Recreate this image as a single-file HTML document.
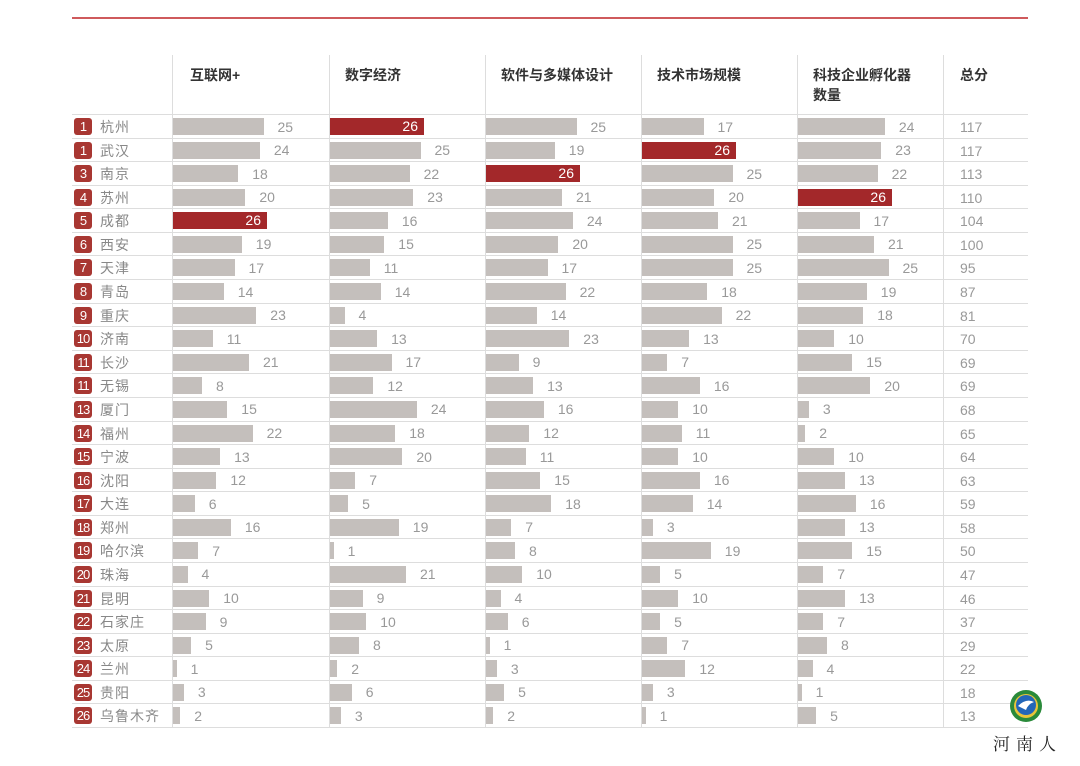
<!DOCTYPE html>
<html><head><meta charset="utf-8"><style>
body{margin:0;background:#fff;width:1080px;height:766px;overflow:hidden;position:relative;font-family:"Liberation Sans","Noto Sans CJK SC",sans-serif}
.top{position:absolute;left:72px;top:17px;width:956px;height:2px;background:#cf5a5c}
.v{position:absolute;top:55px;height:673px;width:1px;background:#ddd}
.h{position:absolute;top:65px;font-size:14px;font-weight:bold;color:#333;line-height:20px}
#t{position:absolute;left:72px;top:114px;width:956px;border-top:1px solid #ddd}
.r{position:relative;height:22.58px;border-bottom:1px solid #ddd}
.r b{position:absolute;left:2px;top:3px;width:18px;height:17px;background:#a83732;border-radius:3px;color:#fff;font-weight:normal;font-size:13px;line-height:17px;text-align:center;letter-spacing:-1px}
.r i{position:absolute;left:28px;top:2px;font-style:normal;color:#888;font-size:14px;line-height:20px;letter-spacing:1px}
.c{position:absolute;top:3px;display:flex;align-items:center;height:17px}
.c s{display:block;height:17px;background:#c4bfbc;text-decoration:none}
.c span{margin-left:14px;color:#999;font-size:14px}
.c s.x{background:#a3282a;color:#fff;font-size:14px;text-align:right;box-sizing:border-box;padding-right:6px;line-height:17px}
.tt{position:absolute;left:888px;top:2px;color:#999;font-size:14px;line-height:20px}
.c1{left:101px}.c2{left:258px}.c3{left:414px}.c4{left:570px}.c5{left:726px}
</style></head><body>
<div class="top"></div>
<div class="v" style="left:172px"></div><div class="v" style="left:329px"></div><div class="v" style="left:485px"></div><div class="v" style="left:641px"></div><div class="v" style="left:797px"></div><div class="v" style="left:943px"></div>
<div class="h" style="left:190px">互联网+</div>
<div class="h" style="left:345px">数字经济</div>
<div class="h" style="left:501px">软件与多媒体设计</div>
<div class="h" style="left:657px">技术市场规模</div>
<div class="h" style="left:813px">科技企业孵化器<br>数量</div>
<div class="h" style="left:960px">总分</div>
<div id="t">
<div class="r"><b>1</b><i>杭州</i><div class="c c1"><s style="width:90.5px"></s><span>25</span></div><div class="c c2"><s class="x" style="width:94px">26</s></div><div class="c c3"><s style="width:90.5px"></s><span>25</span></div><div class="c c4"><s style="width:61.5px"></s><span>17</span></div><div class="c c5"><s style="width:86.9px"></s><span>24</span></div><div class="tt">117</div></div>
<div class="r"><b>1</b><i>武汉</i><div class="c c1"><s style="width:86.9px"></s><span>24</span></div><div class="c c2"><s style="width:90.5px"></s><span>25</span></div><div class="c c3"><s style="width:68.8px"></s><span>19</span></div><div class="c c4"><s class="x" style="width:94px">26</s></div><div class="c c5"><s style="width:83.3px"></s><span>23</span></div><div class="tt">117</div></div>
<div class="r"><b>3</b><i>南京</i><div class="c c1"><s style="width:65.2px"></s><span>18</span></div><div class="c c2"><s style="width:79.6px"></s><span>22</span></div><div class="c c3"><s class="x" style="width:94px">26</s></div><div class="c c4"><s style="width:90.5px"></s><span>25</span></div><div class="c c5"><s style="width:79.6px"></s><span>22</span></div><div class="tt">113</div></div>
<div class="r"><b>4</b><i>苏州</i><div class="c c1"><s style="width:72.4px"></s><span>20</span></div><div class="c c2"><s style="width:83.3px"></s><span>23</span></div><div class="c c3"><s style="width:76px"></s><span>21</span></div><div class="c c4"><s style="width:72.4px"></s><span>20</span></div><div class="c c5"><s class="x" style="width:94px">26</s></div><div class="tt">110</div></div>
<div class="r"><b>5</b><i>成都</i><div class="c c1"><s class="x" style="width:94px">26</s></div><div class="c c2"><s style="width:57.9px"></s><span>16</span></div><div class="c c3"><s style="width:86.9px"></s><span>24</span></div><div class="c c4"><s style="width:76px"></s><span>21</span></div><div class="c c5"><s style="width:61.5px"></s><span>17</span></div><div class="tt">104</div></div>
<div class="r"><b>6</b><i>西安</i><div class="c c1"><s style="width:68.8px"></s><span>19</span></div><div class="c c2"><s style="width:54.3px"></s><span>15</span></div><div class="c c3"><s style="width:72.4px"></s><span>20</span></div><div class="c c4"><s style="width:90.5px"></s><span>25</span></div><div class="c c5"><s style="width:76px"></s><span>21</span></div><div class="tt">100</div></div>
<div class="r"><b>7</b><i>天津</i><div class="c c1"><s style="width:61.5px"></s><span>17</span></div><div class="c c2"><s style="width:39.8px"></s><span>11</span></div><div class="c c3"><s style="width:61.5px"></s><span>17</span></div><div class="c c4"><s style="width:90.5px"></s><span>25</span></div><div class="c c5"><s style="width:90.5px"></s><span>25</span></div><div class="tt">95</div></div>
<div class="r"><b>8</b><i>青岛</i><div class="c c1"><s style="width:50.7px"></s><span>14</span></div><div class="c c2"><s style="width:50.7px"></s><span>14</span></div><div class="c c3"><s style="width:79.6px"></s><span>22</span></div><div class="c c4"><s style="width:65.2px"></s><span>18</span></div><div class="c c5"><s style="width:68.8px"></s><span>19</span></div><div class="tt">87</div></div>
<div class="r"><b>9</b><i>重庆</i><div class="c c1"><s style="width:83.3px"></s><span>23</span></div><div class="c c2"><s style="width:14.5px"></s><span>4</span></div><div class="c c3"><s style="width:50.7px"></s><span>14</span></div><div class="c c4"><s style="width:79.6px"></s><span>22</span></div><div class="c c5"><s style="width:65.2px"></s><span>18</span></div><div class="tt">81</div></div>
<div class="r"><b>10</b><i>济南</i><div class="c c1"><s style="width:39.8px"></s><span>11</span></div><div class="c c2"><s style="width:47.1px"></s><span>13</span></div><div class="c c3"><s style="width:83.3px"></s><span>23</span></div><div class="c c4"><s style="width:47.1px"></s><span>13</span></div><div class="c c5"><s style="width:36.2px"></s><span>10</span></div><div class="tt">70</div></div>
<div class="r"><b>11</b><i>长沙</i><div class="c c1"><s style="width:76px"></s><span>21</span></div><div class="c c2"><s style="width:61.5px"></s><span>17</span></div><div class="c c3"><s style="width:32.6px"></s><span>9</span></div><div class="c c4"><s style="width:25.3px"></s><span>7</span></div><div class="c c5"><s style="width:54.3px"></s><span>15</span></div><div class="tt">69</div></div>
<div class="r"><b>11</b><i>无锡</i><div class="c c1"><s style="width:29px"></s><span>8</span></div><div class="c c2"><s style="width:43.4px"></s><span>12</span></div><div class="c c3"><s style="width:47.1px"></s><span>13</span></div><div class="c c4"><s style="width:57.9px"></s><span>16</span></div><div class="c c5"><s style="width:72.4px"></s><span>20</span></div><div class="tt">69</div></div>
<div class="r"><b>13</b><i>厦门</i><div class="c c1"><s style="width:54.3px"></s><span>15</span></div><div class="c c2"><s style="width:86.9px"></s><span>24</span></div><div class="c c3"><s style="width:57.9px"></s><span>16</span></div><div class="c c4"><s style="width:36.2px"></s><span>10</span></div><div class="c c5"><s style="width:10.9px"></s><span>3</span></div><div class="tt">68</div></div>
<div class="r"><b>14</b><i>福州</i><div class="c c1"><s style="width:79.6px"></s><span>22</span></div><div class="c c2"><s style="width:65.2px"></s><span>18</span></div><div class="c c3"><s style="width:43.4px"></s><span>12</span></div><div class="c c4"><s style="width:39.8px"></s><span>11</span></div><div class="c c5"><s style="width:7.2px"></s><span>2</span></div><div class="tt">65</div></div>
<div class="r"><b>15</b><i>宁波</i><div class="c c1"><s style="width:47.1px"></s><span>13</span></div><div class="c c2"><s style="width:72.4px"></s><span>20</span></div><div class="c c3"><s style="width:39.8px"></s><span>11</span></div><div class="c c4"><s style="width:36.2px"></s><span>10</span></div><div class="c c5"><s style="width:36.2px"></s><span>10</span></div><div class="tt">64</div></div>
<div class="r"><b>16</b><i>沈阳</i><div class="c c1"><s style="width:43.4px"></s><span>12</span></div><div class="c c2"><s style="width:25.3px"></s><span>7</span></div><div class="c c3"><s style="width:54.3px"></s><span>15</span></div><div class="c c4"><s style="width:57.9px"></s><span>16</span></div><div class="c c5"><s style="width:47.1px"></s><span>13</span></div><div class="tt">63</div></div>
<div class="r"><b>17</b><i>大连</i><div class="c c1"><s style="width:21.7px"></s><span>6</span></div><div class="c c2"><s style="width:18.1px"></s><span>5</span></div><div class="c c3"><s style="width:65.2px"></s><span>18</span></div><div class="c c4"><s style="width:50.7px"></s><span>14</span></div><div class="c c5"><s style="width:57.9px"></s><span>16</span></div><div class="tt">59</div></div>
<div class="r"><b>18</b><i>郑州</i><div class="c c1"><s style="width:57.9px"></s><span>16</span></div><div class="c c2"><s style="width:68.8px"></s><span>19</span></div><div class="c c3"><s style="width:25.3px"></s><span>7</span></div><div class="c c4"><s style="width:10.9px"></s><span>3</span></div><div class="c c5"><s style="width:47.1px"></s><span>13</span></div><div class="tt">58</div></div>
<div class="r"><b>19</b><i>哈尔滨</i><div class="c c1"><s style="width:25.3px"></s><span>7</span></div><div class="c c2"><s style="width:3.6px"></s><span>1</span></div><div class="c c3"><s style="width:29px"></s><span>8</span></div><div class="c c4"><s style="width:68.8px"></s><span>19</span></div><div class="c c5"><s style="width:54.3px"></s><span>15</span></div><div class="tt">50</div></div>
<div class="r"><b>20</b><i>珠海</i><div class="c c1"><s style="width:14.5px"></s><span>4</span></div><div class="c c2"><s style="width:76px"></s><span>21</span></div><div class="c c3"><s style="width:36.2px"></s><span>10</span></div><div class="c c4"><s style="width:18.1px"></s><span>5</span></div><div class="c c5"><s style="width:25.3px"></s><span>7</span></div><div class="tt">47</div></div>
<div class="r"><b>21</b><i>昆明</i><div class="c c1"><s style="width:36.2px"></s><span>10</span></div><div class="c c2"><s style="width:32.6px"></s><span>9</span></div><div class="c c3"><s style="width:14.5px"></s><span>4</span></div><div class="c c4"><s style="width:36.2px"></s><span>10</span></div><div class="c c5"><s style="width:47.1px"></s><span>13</span></div><div class="tt">46</div></div>
<div class="r"><b>22</b><i>石家庄</i><div class="c c1"><s style="width:32.6px"></s><span>9</span></div><div class="c c2"><s style="width:36.2px"></s><span>10</span></div><div class="c c3"><s style="width:21.7px"></s><span>6</span></div><div class="c c4"><s style="width:18.1px"></s><span>5</span></div><div class="c c5"><s style="width:25.3px"></s><span>7</span></div><div class="tt">37</div></div>
<div class="r"><b>23</b><i>太原</i><div class="c c1"><s style="width:18.1px"></s><span>5</span></div><div class="c c2"><s style="width:29px"></s><span>8</span></div><div class="c c3"><s style="width:3.6px"></s><span>1</span></div><div class="c c4"><s style="width:25.3px"></s><span>7</span></div><div class="c c5"><s style="width:29px"></s><span>8</span></div><div class="tt">29</div></div>
<div class="r"><b>24</b><i>兰州</i><div class="c c1"><s style="width:3.6px"></s><span>1</span></div><div class="c c2"><s style="width:7.2px"></s><span>2</span></div><div class="c c3"><s style="width:10.9px"></s><span>3</span></div><div class="c c4"><s style="width:43.4px"></s><span>12</span></div><div class="c c5"><s style="width:14.5px"></s><span>4</span></div><div class="tt">22</div></div>
<div class="r"><b>25</b><i>贵阳</i><div class="c c1"><s style="width:10.9px"></s><span>3</span></div><div class="c c2"><s style="width:21.7px"></s><span>6</span></div><div class="c c3"><s style="width:18.1px"></s><span>5</span></div><div class="c c4"><s style="width:10.9px"></s><span>3</span></div><div class="c c5"><s style="width:3.6px"></s><span>1</span></div><div class="tt">18</div></div>
<div class="r"><b>26</b><i>乌鲁木齐</i><div class="c c1"><s style="width:7.2px"></s><span>2</span></div><div class="c c2"><s style="width:10.9px"></s><span>3</span></div><div class="c c3"><s style="width:7.2px"></s><span>2</span></div><div class="c c4"><s style="width:3.6px"></s><span>1</span></div><div class="c c5"><s style="width:18.1px"></s><span>5</span></div><div class="tt">13</div></div>
</div>
<svg style="position:absolute;left:1008px;top:688px" width="40" height="40"><circle cx="18" cy="18" r="16" fill="#2a8a3a"/><circle cx="18" cy="18" r="12" fill="#e8c43a"/><circle cx="18" cy="17" r="10" fill="#2366b8"/><path d="M10 18 Q18 10 26 14 Q20 16 18 22 Q14 20 10 18Z" fill="#fff"/></svg>
<div style="position:absolute;left:993px;top:730px;font-size:17px;color:#222;letter-spacing:6px;font-family:'Noto Serif CJK SC',serif">河南人</div>
</body></html>
